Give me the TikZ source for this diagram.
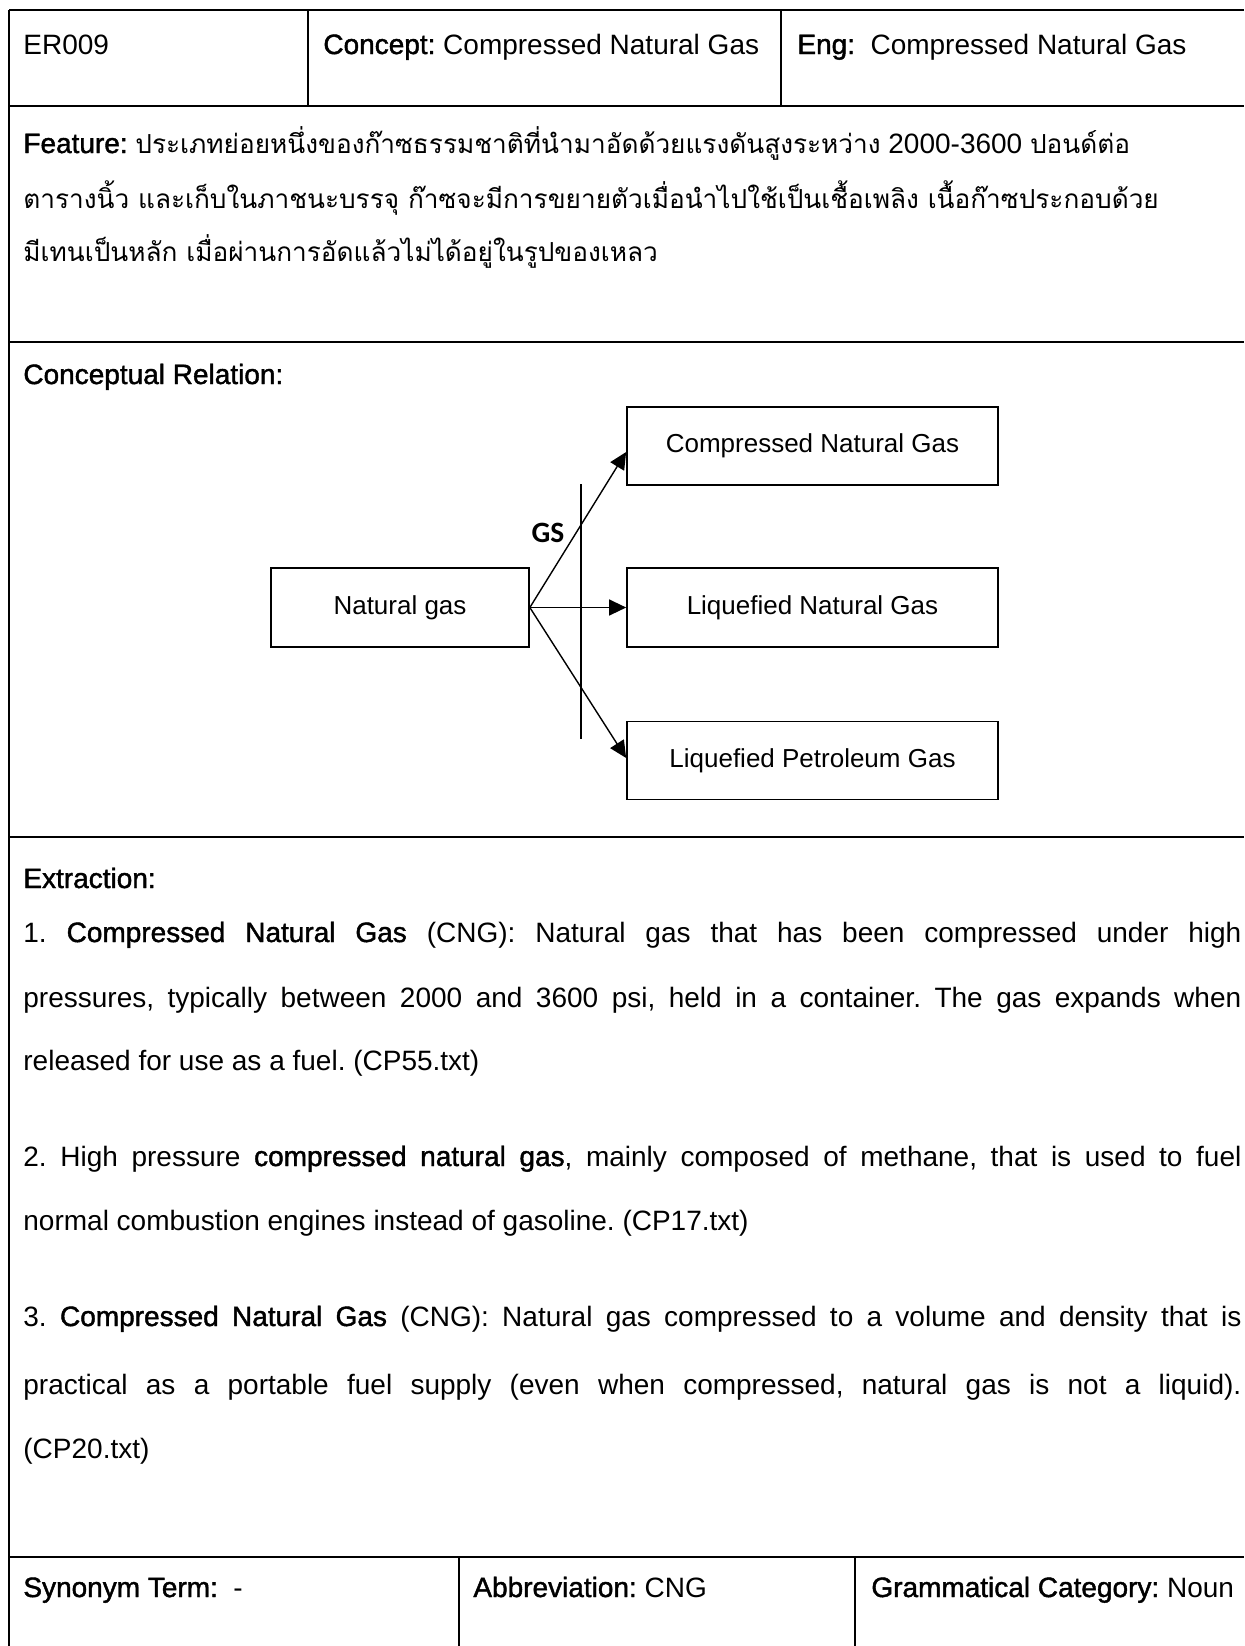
\documentclass[tikz,border=0pt]{standalone}
\usepackage{fontspec}
\setmainfont{Liberation Sans}
\newfontfamily\semib{Liberation Sans}[FakeBold=1.5]
\newfontfamily\thaifont[Script=Thai]{Loma}
\newfontfamily\gsfont{Carlito}
\usetikzlibrary{arrows.meta}
\newcommand{\lb}[1]{{\semib #1}}
\newcommand{\thaitext}[1]{{\thaifont\fontsize{13.1}{16}\selectfont #1}}
\newcommand{\jline}[1]{\makebox[609pt][s]{#1}}

\tikzset{
  rule/.style={line width=1pt},
  txt/.style={anchor=base west, inner sep=0pt, font=\fontsize{14}{16}\selectfont\frenchspacing},
  concept/.style={draw, line width=0.85pt, inner sep=0pt,
    minimum width=185.5pt, minimum height=39pt, font=\fontsize{13}{15}\selectfont},
  rel/.style={line width=0.7pt, -{Triangle[length=8.5pt,width=8pt]}},
  gslabel/.style={inner sep=0pt, font={\gsfont\bfseries\fontsize{14.75}{17}\selectfont}}
}

\begin{document}
\begin{tikzpicture}[x=0.5pt,y=-0.5pt]
  \path[use as bounding box] (0,0) rectangle (1244,1646);

  % table frame and rows
  \draw[rule] (9,10) -- (1244,10);
  \draw[rule] (9,10) -- (9,1646);
  \foreach \yy in {106,342,837,1557} \draw[rule] (9,\yy) -- (1244,\yy);
  \draw[rule] (308,10) -- (308,106);
  \draw[rule] (781,10) -- (781,106);
  \draw[rule] (459,1557) -- (459,1646);
  \draw[rule] (855,1557) -- (855,1646);

  % header row
  \node[txt] (id) at (23,54) {ER009};
  \node[txt] (concept) at (323,54) {\lb{Concept:} Compressed Natural Gas};
  \node[txt] (eng) at (797,54) {\lb{Eng:}\ \ Compressed Natural Gas};

  % feature row
  \node[txt] (feat1) at (23,153) {\lb{Feature:} \thaitext{ประเภทย่อยหนึ่งของก๊าซธรรมชาติที่นำมาอัดด้วยแรงดันสูงระหว่าง} 2000-3600 \thaitext{ปอนด์ต่อ}};
  \node[txt] (feat2) at (23,208) {\thaitext{ตารางนิ้ว และเก็บในภาชนะบรรจุ ก๊าซจะมีการขยายตัวเมื่อนำไปใช้เป็นเชื้อเพลิง เนื้อก๊าซประกอบด้วย}};
  \node[txt] (feat3) at (23,261) {\thaitext{มีเทนเป็นหลัก เมื่อผ่านการอัดแล้วไม่ได้อยู่ในรูปของเหลว}};

  % conceptual relation row
  \node[txt] (crlabel) at (23,384) {\lb{Conceptual Relation:}};
  \node[concept, minimum width=129pt, minimum height=39.5pt] (ng) at (400,607.5) {Natural gas};
  \node[concept] (cng) at (812.5,446) {Compressed Natural Gas};
  \node[concept, minimum height=39.5pt] (lng) at (812.5,607.5) {Liquefied Natural Gas};
  \node[concept] (lpg) at (812.5,760.5) {Liquefied Petroleum Gas};
  \coordinate (barTop) at (581,484);
  \coordinate (barBot) at (581,739);
  \draw[line width=0.65pt] (barTop) -- (barBot);
  \node[gslabel] (gs) at (548,533) {GS};
  \draw[rel] (ng.east) -- ([yshift=-3pt]cng.west);
  \draw[rel] (ng.east) -- (lng.west);
  \draw[rel] (ng.east) -- ([yshift=1.25pt]lpg.west);

  % extraction row
  \node[txt] (exlabel) at (23,888) {\lb{Extraction:}};
  \node[txt] (ex1a) at (23,942) {\jline{1. \lb{Compressed Natural Gas} (CNG): Natural gas that has been compressed under high}};
  \node[txt] (ex1b) at (23,1007) {\jline{pressures, typically between 2000 and 3600 psi, held in a container. The gas expands when}};
  \node[txt] (ex1c) at (23,1070) {released for use as a fuel. (CP55.txt)};
  \node[txt] (ex2a) at (23,1166) {\jline{2. High pressure \lb{compressed natural gas}, mainly composed of methane, that is used to fuel}};
  \node[txt] (ex2b) at (23,1230) {normal combustion engines instead of gasoline. (CP17.txt)};
  \node[txt] (ex3a) at (23,1326) {\jline{3. \lb{Compressed Natural Gas} (CNG): Natural gas compressed to a volume and density that is}};
  \node[txt] (ex3b) at (23,1394) {\jline{practical as a portable fuel supply (even when compressed, natural gas is not a liquid).}};
  \node[txt] (ex3c) at (23,1458) {(CP20.txt)};

  % bottom row
  \node[txt] (syn) at (23,1597) {\lb{Synonym Term:}\ \ -};
  \node[txt] (abbr) at (473,1597) {\lb{Abbreviation:} CNG};
  \node[txt] (gram) at (871,1597) {\lb{Grammatical Category:} Noun};
\end{tikzpicture}
\end{document}
